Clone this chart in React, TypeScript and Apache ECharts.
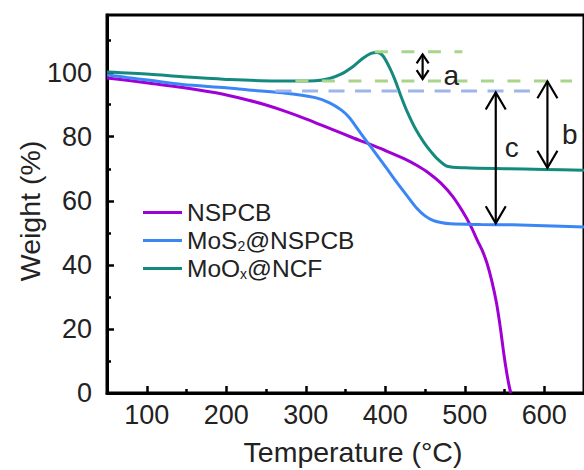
import React, { useEffect, useRef } from "react";
import * as echarts from "echarts";

const FONT = '"Liberation Sans", Arial, Helvetica, sans-serif';

// NSPCB
const nspcbT = [50, 75, 104, 145, 187, 228, 250, 270, 300, 330, 360, 378, 400, 425, 440, 455, 470, 485, 497, 507, 516, 522, 528, 534, 540, 545, 549, 553, 556, 558];
const nspcbW = [98.3, 97.6, 96.7, 95.4, 93.7, 91.4, 89.9, 88.3, 85.6, 82.6, 79.6, 77.9, 75.7, 73.0, 71.0, 68.6, 65.5, 61.3, 56.8, 52.4, 47.6, 44.5, 40.5, 35.0, 28.0, 20.0, 12.5, 6.0, 2.0, 0];

// MoS2@NSPCB
const mos2T = [50, 75, 104, 145, 200, 228, 270, 312, 330, 345, 355, 365, 378, 390, 403, 415, 428, 440, 450, 460, 470, 482, 520, 560, 600, 650];
const mos2W = [99.3, 98.5, 97.6, 96.3, 95.3, 94.6, 93.7, 92.2, 90.6, 88.3, 85.9, 82.5, 78.1, 74.1, 69.7, 65.6, 61.4, 57.6, 55.3, 53.9, 53.2, 52.8, 52.6, 52.5, 52.2, 51.8];

// MoOx@NCF
const mooxT = [50, 104, 145, 200, 262, 312, 330, 345, 360, 372, 382, 390, 397, 405, 412, 420, 428, 438, 449, 458, 466, 478, 500, 550, 600, 650];
const mooxW = [100.2, 99.5, 98.7, 97.9, 97.4, 97.5, 98.2, 99.6, 102.0, 104.5, 106.0, 106.3, 105.3, 101.8, 97.9, 92.5, 87.6, 82.5, 78.1, 75.2, 73.0, 70.8, 70.3, 70.0, 69.8, 69.5];

// Reference dashed lines
const greenUpperT = [387, 497];
const greenUpperW = [106.5, 106.5];
const greenLowerT = [287, 635];
const greenLowerW = [97.4, 97.4];
const blueDashT = [262, 582];
const blueDashW = [94.3, 94.3];

// Double arrows (a, c, b)
const arrowLabels = ["a", "c", "b"];
const arrowT = [447, 539, 604];
const arrowTopW = [105.7, 93.8, 97.3];
const arrowBottomW = [98.0, 53.0, 70.3];
const arrowLabelT = [483, 559, 632];
const arrowLabelW = [99.2, 76.6, 80.7];

// Ticks
const xMajor = [100, 200, 300, 400, 500, 600];
const xMinor = [150, 250, 350, 450, 550, 650];
const yMajor = [0, 20, 40, 60, 80, 100];
const yMinor = [10, 30, 50, 70, 90, 110];

const seriesNames = ["NSPCB", "MoS2@NSPCB", "MoOx@NCF"];
const colors = ["#a000d6", "#3b86f5", "#148a7e"];
const xName = "Temperature (°C)";
const yName = "Weight (%)";

const zip = (a: number[], b: number[]) => a.map((v, i) => [v, b[i]]);

export default function App() {
  const ref = useRef<HTMLDivElement>(null);
  useEffect(() => {
    if (!ref.current) return;
    const chart = echarts.init(ref.current, null, { renderer: "svg" });
    const legendText = {
      fontSize: 24.5,
      color: "#222",
      fontFamily: FONT,
      lineHeight: 24,
      rich: {
        sub: { fontSize: 14, lineHeight: 9, verticalAlign: "bottom", color: "#222", fontFamily: FONT },
      },
    };
    const legendFmt = (name: string) => {
      if (name === "MoS2@NSPCB") return "MoS{sub|2}@NSPCB";
      if (name === "MoOx@NCF") return "MoO{sub|x}@NCF";
      return name;
    };
    const legendCenters = [212, 240, 268];
    const heads = [
      [6, 9],
      [10, 17],
      [10, 17],
    ];
    const option: any = {
      animation: false,
      backgroundColor: "#fff",
      grid: {
        left: 107,
        right: -4,
        top: 15,
        bottom: 77,
        show: true,
        borderColor: "#000",
        borderWidth: 3,
        backgroundColor: "transparent",
      },
      graphic: [
        {
          type: "text",
          x: 353,
          y: 452,
          style: { text: xName, fontSize: 28.5, fill: "#222", fontFamily: FONT, align: "center", verticalAlign: "middle" },
        },
        {
          type: "text",
          x: 30,
          y: 211,
          rotation: Math.PI / 2,
          style: { text: yName, fontSize: 28.5, fill: "#222", fontFamily: FONT, align: "center", verticalAlign: "middle" },
        },
      ],
      legend: seriesNames.map((n, i) => ({
        data: [n],
        left: 143,
        top: legendCenters[i] - 12,
        padding: 0,
        icon: "rect",
        itemWidth: 39,
        itemHeight: 3,
        selectedMode: false,
        formatter: legendFmt,
        textStyle: legendText,
      })),
      xAxis: [
        {
          type: "value",
          min: 50,
          max: 650,
          position: "bottom",
          axisLine: { show: true, onZero: false, lineStyle: { color: "#000", width: 3 } },
          axisTick: { show: true, inside: true, length: 7, customValues: xMajor, lineStyle: { color: "#000", width: 2.5 } },
          axisLabel: { customValues: xMajor, fontSize: 27, color: "#222", fontFamily: FONT, margin: 8 },
          splitLine: { show: false },
        },
        {
          type: "value",
          min: 50,
          max: 650,
          position: "bottom",
          axisLine: { show: false, onZero: false },
          axisTick: { show: true, inside: true, length: 4, customValues: xMinor, lineStyle: { color: "#000", width: 2.5 } },
          axisLabel: { show: false },
          splitLine: { show: false },
        },
      ],
      yAxis: [
        {
          type: "value",
          min: 0,
          max: 118,
          position: "left",
          axisLine: { show: true, onZero: false, lineStyle: { color: "#000", width: 3 } },
          axisTick: { show: true, inside: true, length: 7, customValues: yMajor, lineStyle: { color: "#000", width: 2.5 } },
          axisLabel: { customValues: yMajor, fontSize: 27, color: "#222", fontFamily: FONT, margin: 15 },
          splitLine: { show: false },
        },
        {
          type: "value",
          min: 0,
          max: 118,
          position: "left",
          axisLine: { show: false, onZero: false },
          axisTick: { show: true, inside: true, length: 4, customValues: yMinor, lineStyle: { color: "#000", width: 2.5 } },
          axisLabel: { show: false },
          splitLine: { show: false },
        },
      ],
      series: [
        ...[
          [nspcbT, nspcbW],
          [mos2T, mos2W],
          [mooxT, mooxW],
        ].map(([t, w], i) => ({
          name: seriesNames[i],
          type: "line",
          data: zip(t, w),
          symbol: "none",
          smooth: 0.3,
          lineStyle: { color: colors[i], width: 3 },
          itemStyle: { color: colors[i] },
          z: 2,
        })),
        ...[
          [greenUpperT, greenUpperW, "#a9d58b", [13, 13.5]],
          [greenLowerT, greenLowerW, "#a9d58b", [13, 13.5]],
          [blueDashT, blueDashW, "#9db5e8", [16, 10.5]],
        ].map(([t, w, c, d]: any) => ({
          type: "line",
          data: zip(t, w),
          symbol: "none",
          lineStyle: { color: c, width: 3, type: d },
          z: 3,
          silent: true,
        })),
        {
          type: "custom",
          z: 5,
          silent: true,
          data: arrowT.map((t, i) => [t, arrowTopW[i], arrowBottomW[i], arrowLabelT[i], arrowLabelW[i]]),
          renderItem: (params: any, api: any) => {
            const i = params.dataIndex;
            const p1 = api.coord([api.value(0), api.value(1)]);
            const p2 = api.coord([api.value(0), api.value(2)]);
            const lp = api.coord([api.value(3), api.value(4)]);
            const x = p1[0];
            const top = Math.min(p1[1], p2[1]);
            const bot = Math.max(p1[1], p2[1]);
            const [hw, hl] = heads[i];
            const st = { stroke: "#000", lineWidth: 2.2, fill: "none" };
            return {
              type: "group",
              children: [
                { type: "line", shape: { x1: x, y1: top, x2: x, y2: bot }, style: st },
                { type: "polyline", shape: { points: [[x - hw, top + hl], [x, top], [x + hw, top + hl]] }, style: st },
                { type: "polyline", shape: { points: [[x - hw, bot - hl], [x, bot], [x + hw, bot - hl]] }, style: st },
                {
                  type: "text",
                  x: lp[0],
                  y: lp[1],
                  style: {
                    text: arrowLabels[i],
                    fontSize: 28,
                    fill: "#222",
                    fontFamily: FONT,
                    align: "center",
                    verticalAlign: "middle",
                  },
                },
              ],
            };
          },
        },
      ],
    };
    chart.setOption(option);
    return () => chart.dispose();
  }, []);
  return <div ref={ref} style={{ position: "fixed", left: 0, top: 0, width: 584, height: 470 }} />;
}
